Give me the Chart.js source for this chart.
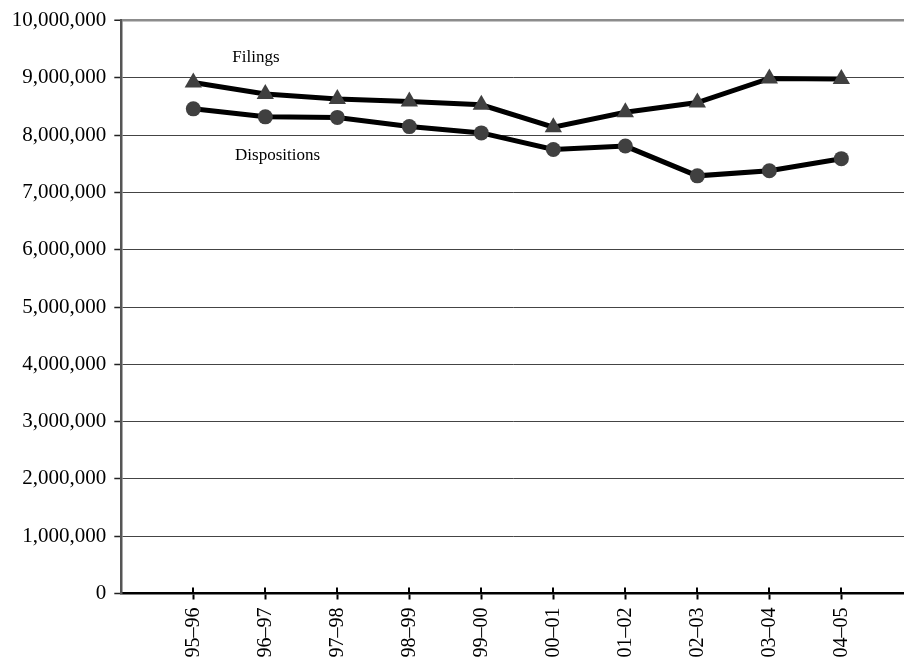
<!DOCTYPE html>
<html>
<head>
<meta charset="utf-8">
<script src="https://cdn.jsdelivr.net/npm/chart.js@4/dist/chart.umd.min.js"></script>
<style>
  html, body { margin: 0; padding: 0; background: #fff; overflow: hidden; }
  /* the plot runs off the right edge in the original, so the canvas is a bit wider than the window */
  #wrap { width: 914px; height: 660px; position: relative; }
</style>
</head>
<body>
<div id="wrap"><canvas id="chart"></canvas></div>
<script>
// data
const years = ['95–96', '96–97', '97–98', '98–99', '99–00', '00–01', '01–02', '02–03', '03–04', '04–05'];
const filings = [8920000, 8720000, 8630000, 8590000, 8530000, 8140000, 8400000, 8570000, 8990000, 8980000];
const dispositions = [8460000, 8320000, 8310000, 8150000, 8040000, 7750000, 7810000, 7290000, 7380000, 7590000];
const yTicks = [0, 1000000, 2000000, 3000000, 4000000, 5000000, 6000000, 7000000, 8000000, 9000000, 10000000];
// series labels written inside the plot (x in category units, y in data units)
const seriesNames = ['Filings', 'Dispositions'];
const namePosX = [1.87, 2.17];
const namePosY = [9350000, 7650000];

const serif = '"Liberation Serif", "Times New Roman", serif';

const toPoints = arr => arr.map((v, i) => ({ x: i + 1, y: v }));

// cross ticks on the x axis + in-plot series names
const extrasPlugin = {
    id: 'extras',
    afterDraw(chart) {
        const ctx = chart.ctx;
        const xs = chart.scales.x, ys = chart.scales.y;
        const y0 = ys.getPixelForValue(0);
        ctx.save();
        ctx.strokeStyle = '#000';
        ctx.lineWidth = 2;
        years.forEach((_, i) => {
            const px = Math.round(xs.getPixelForValue(i + 1));
            ctx.beginPath();
            ctx.moveTo(px, y0 - 6);
            ctx.lineTo(px, y0);
            ctx.stroke();
        });
        ctx.fillStyle = '#000';
        ctx.font = '17px ' + serif;
        ctx.textAlign = 'center';
        ctx.textBaseline = 'middle';
        seriesNames.forEach((n, i) => {
            ctx.fillText(n, xs.getPixelForValue(namePosX[i]), ys.getPixelForValue(namePosY[i]));
        });
        ctx.restore();
    }
};

new Chart(document.getElementById('chart'), {
    type: 'line',
    data: {
        datasets: [{
            label: 'Filings',
            data: toPoints(filings),
            borderColor: '#000',
            borderWidth: 5,
            pointStyle: 'triangle',
            pointRadius: 10,
            pointBackgroundColor: '#404040',
            pointBorderWidth: 0,
            tension: 0
        }, {
            label: 'Dispositions',
            data: toPoints(dispositions),
            borderColor: '#000',
            borderWidth: 5,
            pointStyle: 'circle',
            pointRadius: 7.5,
            pointBackgroundColor: '#404040',
            pointBorderWidth: 0,
            tension: 0
        }]
    },
    options: {
        responsive: true,
        maintainAspectRatio: false,
        animation: false,
        layout: { padding: { top: 18, right: 0, left: 0, bottom: 0 } },
        plugins: { legend: { display: false }, tooltip: { enabled: false } },
        scales: {
            x: {
                type: 'linear',
                min: 0,
                max: 10.87,
                afterBuildTicks: s => { s.ticks = years.map((_, i) => ({ value: i + 1 })); },
                afterFit: s => { s.height = 66.5; },
                grid: {
                    drawOnChartArea: false,
                    tickLength: 6,
                    tickColor: '#000',
                    tickWidth: 2
                },
                border: { color: '#000', width: 2.5 },
                ticks: {
                    autoSkip: false,
                    minRotation: 90,
                    maxRotation: 90,
                    padding: 8,
                    color: '#000',
                    font: { family: serif, size: 20 },
                    callback: v => years[v - 1] || ''
                }
            },
            y: {
                min: 0,
                max: 10000000,
                afterBuildTicks: s => { s.ticks = yTicks.map(v => ({ value: v })); },
                afterFit: s => { s.width = 121.3; },
                grid: {
                    color: c => c.tick.value === 10000000 ? '#8c8c8c' : (c.tick.value === 0 ? 'rgba(0,0,0,0)' : '#444'),
                    lineWidth: c => c.tick.value === 10000000 ? 2.5 : 1,
                    tickColor: '#222',
                    tickLength: 7,
                    tickWidth: 1.5
                },
                border: { color: '#555', width: 2.5 },
                ticks: {
                    padding: 8,
                    color: '#000',
                    font: { family: serif, size: 21 },
                    callback: v => v.toLocaleString('en-US')
                }
            }
        }
    },
    plugins: [extrasPlugin]
});
</script>
</body>
</html>
